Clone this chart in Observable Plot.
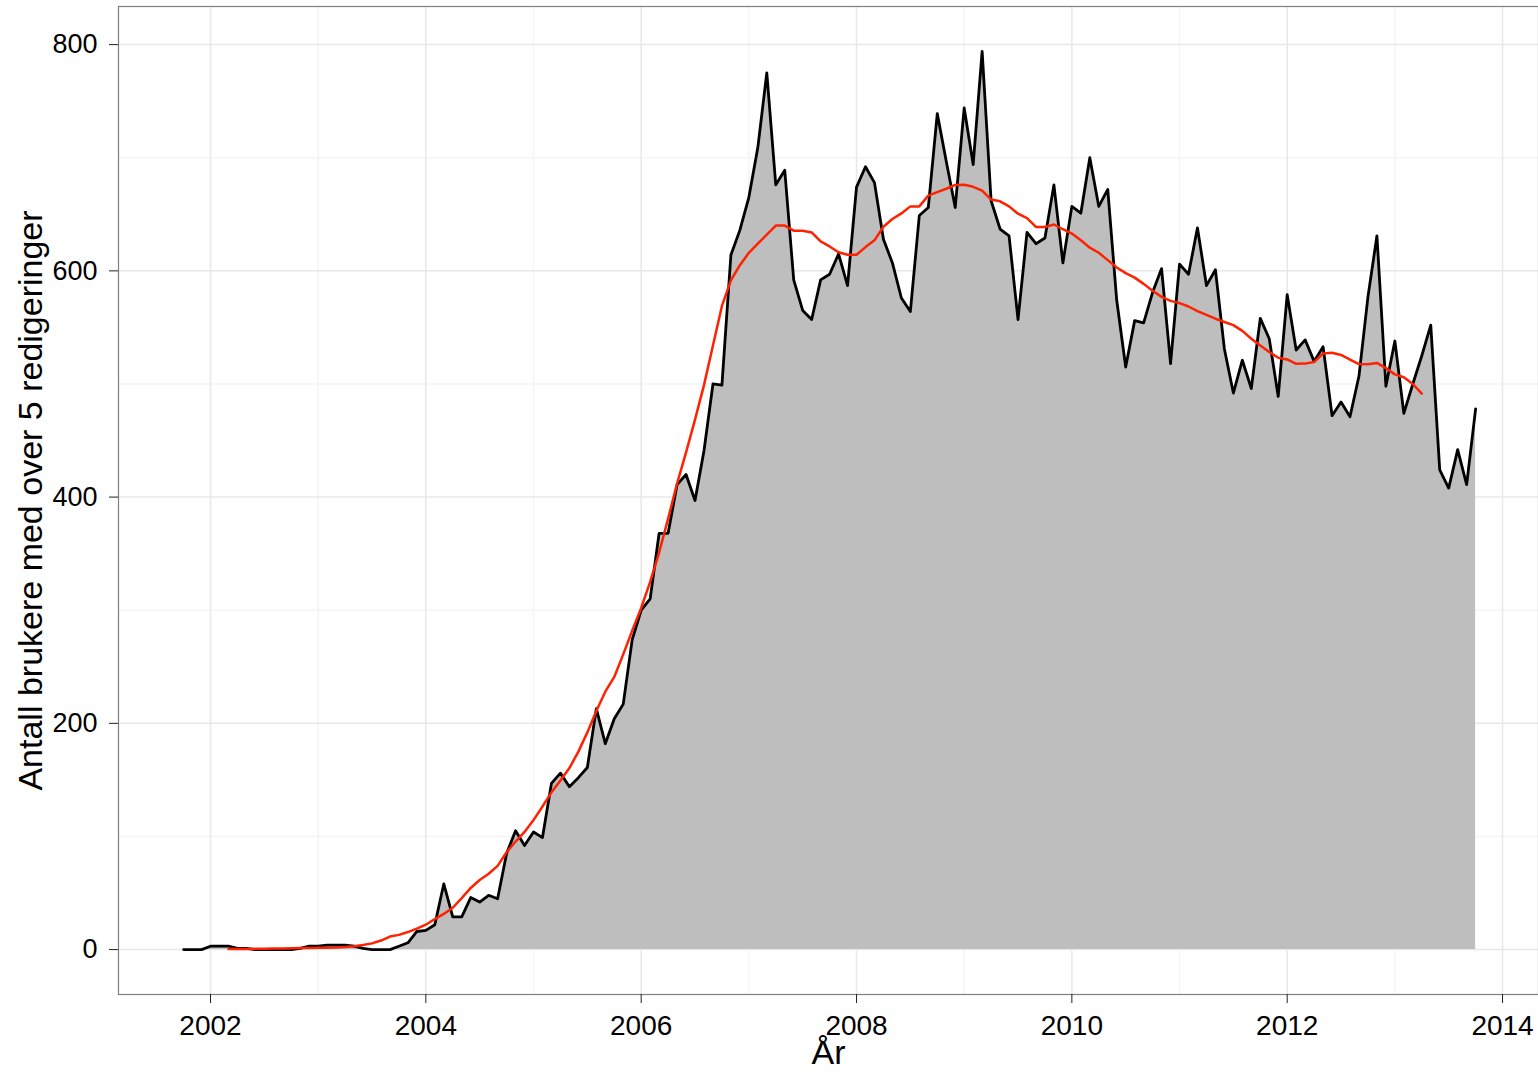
<!DOCTYPE html>
<html><head><meta charset="utf-8">
<script src="https://cdn.jsdelivr.net/npm/d3@7"></script>
<script src="https://cdn.jsdelivr.net/npm/@observablehq/plot@0.6"></script>
<style>body{margin:0;background:#fff;}</style>
</head><body><div id="chart"></div>
<script>
// Monthly series, starting October 2001
const startYear = 2001, startMonth = 10;
const users = [
  0,0,0,3,3,3,1,1,0,0,0,0,0,1,3,
  3,4,4,4,3,1,0,0,0,3,6,16,
  17,22,58,29,29,46,42,48,45,85,105,92,
  104,99,147,156,144,152,161,213,182,204,217,274,
  300,310,368,368,411,420,397,441,500,499,614,636,
  665,709,775,676,689,592,565,557,592,597,615,587,
  674,692,678,628,607,576,564,649,656,739,697,656,
  744,694,794,662,637,631,557,634,624,629,676,607,
  657,651,700,657,672,574,515,556,554,581,602,518,
  606,597,638,587,601,531,492,521,496,558,540,489,
  579,530,539,520,533,472,484,471,507,577,631,498,
  538,474,500,525,552,424,408,442,411,478
];
// Smoothed (moving average) line, first value at month index 5 (March 2002)
const smoothStart = 5;
const smoothed = [
  0.5,0.5,0.5,0.7,0.8,1,1,1.2,1.4,1.5,
  1.6,1.7,1.9,2.2,3,4,5.5,8,11.5,13,15.5,18.5,
  22,27,31.5,37,45.5,54.5,61.5,67,74,86,95.5,104,
  114.5,126.5,139,149.5,160.5,175,192,211,228,241,261,282,
  302,325,351,381,412,439.5,468.5,499,534,569,591.6,605,
  616,624,632,640,640,635.5,635.5,634,626,621.6,616.5,614.3,
  614.3,621,627,639,645.8,650.8,657,657,666.5,669.6,672.6,676,
  676.2,674.3,671,663,661.5,657,650.5,646.6,638.8,638.7,641,636.8,
  633,627,620.5,616,609.5,603,598,594,588.5,582.5,577,573.5,
  571.5,568.5,564.5,561,557.7,554.8,552,547,540,534,528.3,523.2,
  521.7,517.8,518,519.4,527,527.6,525.7,521.6,517.6,517.4,518.6,514,
  508.5,506,500,491.5
];
const xTicks = [2002,2004,2006,2008,2010,2012,2014];
const xMinor = [2003,2005,2007,2009,2011,2013];
const yTicks = [0,200,400,600,800];
const yMinor = [100,300,500,700];
const xLabel = "År";
const yLabel = "Antall brukere med over 5 redigeringer";

const toYear = i => startYear + (startMonth - 1 + i) / 12;
const series = users.map((v, i) => ({t: toYear(i), v}));
const smooth = smoothed.map((v, i) => ({t: toYear(i + smoothStart), v}));

const font = "'Liberation Sans', Arial, Helvetica, sans-serif";
const chart = Plot.plot({
  width: 1538, height: 1075,
  marginLeft: 118, marginRight: 0, marginTop: 6, marginBottom: 81,
  style: {fontFamily: font, background: "#fff", color: "#000", overflow: "visible"},
  x: {domain: [2001.1455, 2014.334]},
  y: {domain: [-39.7, 833.7]},
  marks: [
    Plot.gridX(xMinor, {stroke: "#F4F4F4", strokeOpacity: 1, strokeWidth: 1.5}),
    Plot.gridY(yMinor, {stroke: "#F4F4F4", strokeOpacity: 1, strokeWidth: 1.5}),
    Plot.gridX(xTicks, {stroke: "#E8E8E8", strokeOpacity: 1, strokeWidth: 1.5}),
    Plot.gridY(yTicks, {stroke: "#E8E8E8", strokeOpacity: 1, strokeWidth: 1.5}),
    Plot.areaY(series, {x: "t", y: "v", fill: "#BEBEBE"}),
    Plot.lineY(series, {x: "t", y: "v", stroke: "#000", strokeWidth: 2.8}),
    Plot.lineY(smooth, {x: "t", y: "v", stroke: "#FF2200", strokeWidth: 2.5}),
    Plot.frame({stroke: "#7F7F7F", strokeWidth: 1.2}),
    Plot.axisX(xTicks, {tickSize: 9, tickPadding: 12, fontSize: 28, stroke: "#222", fill: "#000", tickFormat: d => String(d), label: null}),
    Plot.axisY(yTicks, {tickSize: 9, tickPadding: 12, fontSize: 27, stroke: "#222", fill: "#000", tickFormat: d => String(d), label: null}),
    Plot.text([xLabel], {frameAnchor: "bottom", dy: 59, textAnchor: "middle", lineAnchor: "middle", fontSize: 34, fill: "#000"}),
    Plot.text([yLabel], {frameAnchor: "left", dx: -87, rotate: -90, textAnchor: "middle", lineAnchor: "middle", fontSize: 34, fill: "#000"})
  ]
});
document.getElementById("chart").appendChild(chart);
</script>
</body></html>
